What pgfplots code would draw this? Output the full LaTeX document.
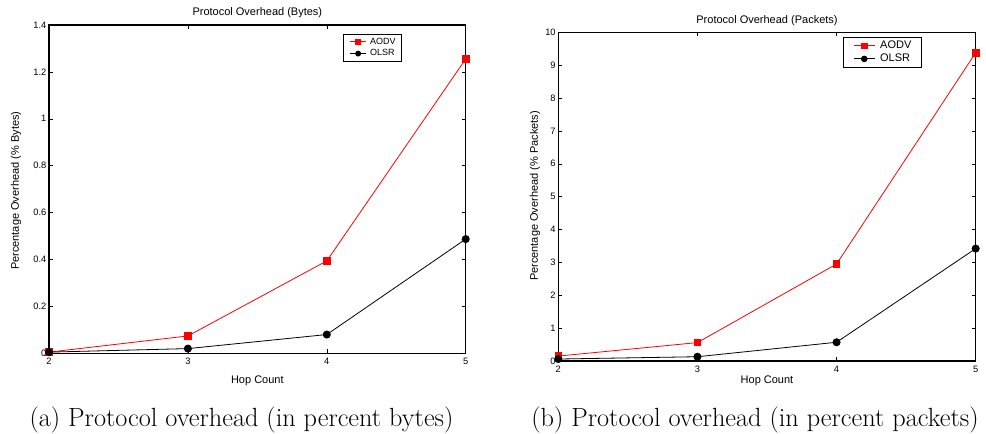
\documentclass[border=0pt]{standalone}
\usepackage{fontspec}
\usepackage{pgfplots}
\pgfplotsset{compat=1.18}
\newfontfamily\arial{Liberation Sans}
\definecolor{mred}{RGB}{255,0,0}
\pgfplotsset{
  every axis title shift=0pt,
  mstyle/.style={
    scale only axis, clip=false,
    xmin=2, xmax=5, xtick={2,3,4,5},
    tick align=inside, major tick length=4pt,
    every tick/.style={black, line width=0.5pt},
    axis line style={line width=1.3pt},
    /pgf/number format/assume math mode=true,
    ticklabel style={font=\arial\fontsize{9.3}{10}\selectfont},
    xticklabel style={inner sep=0pt, yshift=-5pt},
    yticklabel style={inner sep=0pt, xshift=-2.5pt},
    title style={font=\arial\fontsize{11}{12}\selectfont, anchor=center},
    label style={font=\arial\fontsize{11}{12}\selectfont, anchor=center},
    legend cell align=left,
  },
  aodv/.style={color=mred, line width=0.8pt, mark=square*, mark size=3.3pt, mark options={solid, fill=mred, draw=mred}},
  olsr/.style={color=black, line width=0.8pt, mark=*, mark size=3.6pt, mark options={solid, fill=black}},
}
\begin{document}
\begin{tikzpicture}[x=1pt,y=1pt]
\path[use as bounding box] (0,0) rectangle (986,434);
% ---------- (a) ----------
\begin{axis}[mstyle,
  at={(49pt,80.7pt)}, anchor=south west,
  width=416.7pt, height=328.3pt,
  ymin=0, ymax=1.4, ytick={0,0.2,0.4,0.6,0.8,1,1.2,1.4},
  title={Protocol Overhead (Bytes)},
  title style={at={(axis description cs:0.5,1.0387)}, anchor=center},
  xlabel={Hop Count},
  xlabel style={at={(axis description cs:0.5,-0.0844)}},
  ylabel={Percentage Overhead (\% Bytes)},
  ylabel style={at={(axis description cs:-0.0792,0.495)}},
  legend image code/.code={\draw[mark repeat=2,mark phase=2, every mark/.append style={scale=0.7}] plot coordinates {(0pt,0pt) (8.35pt,0pt) (16.7pt,0pt)};},
  legend style={at={(axis description cs:0.7055,0.9726)}, anchor=north west,
    draw=black, line width=0.8pt, inner xsep=6pt, inner ysep=1.5pt,
    font=\arial\fontsize{9}{10}\selectfont,
    nodes={inner xsep=0pt, inner ysep=2pt},
    /tikz/every odd column/.append style={column sep=3.3pt}},
]
\addplot[aodv] coordinates {(2,0.005) (3,0.074) (4,0.394) (5,1.255)};
\addplot[olsr] coordinates {(2,0.005) (3,0.020) (4,0.080) (5,0.487)};
\legend{AODV,OLSR}
\end{axis}
% ---------- (b) ----------
\begin{axis}[mstyle,
  at={(558.3pt,73pt)}, anchor=south west,
  width=417.4pt, height=328.7pt,
  ymin=0, ymax=10, ytick={0,1,...,10},
  title={Protocol Overhead (Packets)},
  title style={at={(axis description cs:0.5,1.0344)}, anchor=center},
  xlabel={Hop Count},
  xlabel style={at={(axis description cs:0.5,-0.0608)}},
  ylabel={Percentage Overhead (\% Packets)},
  ylabel style={at={(axis description cs:-0.0558,0.502)}},
  legend image code/.code={\draw[mark repeat=2,mark phase=2, every mark/.append style={scale=0.8}] plot coordinates {(0pt,0pt) (10.5pt,0pt) (21pt,0pt)};},
  legend style={at={(axis description cs:0.682,0.985)}, anchor=north west,
    draw=black, line width=0.8pt, inner xsep=10pt, inner ysep=1.5pt,
    font=\arial\fontsize{11}{12}\selectfont,
    nodes={inner xsep=0pt, inner ysep=2pt},
    /tikz/every odd column/.append style={column sep=5pt}},
]
\addplot[aodv] coordinates {(2,0.15) (3,0.56) (4,2.95) (5,9.38)};
\addplot[olsr] coordinates {(2,0.06) (3,0.13) (4,0.57) (5,3.42)};
\legend{AODV,OLSR}
\end{axis}
\node[anchor=base, font=\fontsize{26.3}{30}\selectfont] at (241.5,7) {(a) Protocol overhead (in percent bytes)};
\node[anchor=base, font=\fontsize{26.3}{30}\selectfont] at (755,7) {(b) Protocol overhead (in percent packets)};
\end{tikzpicture}
\end{document}
